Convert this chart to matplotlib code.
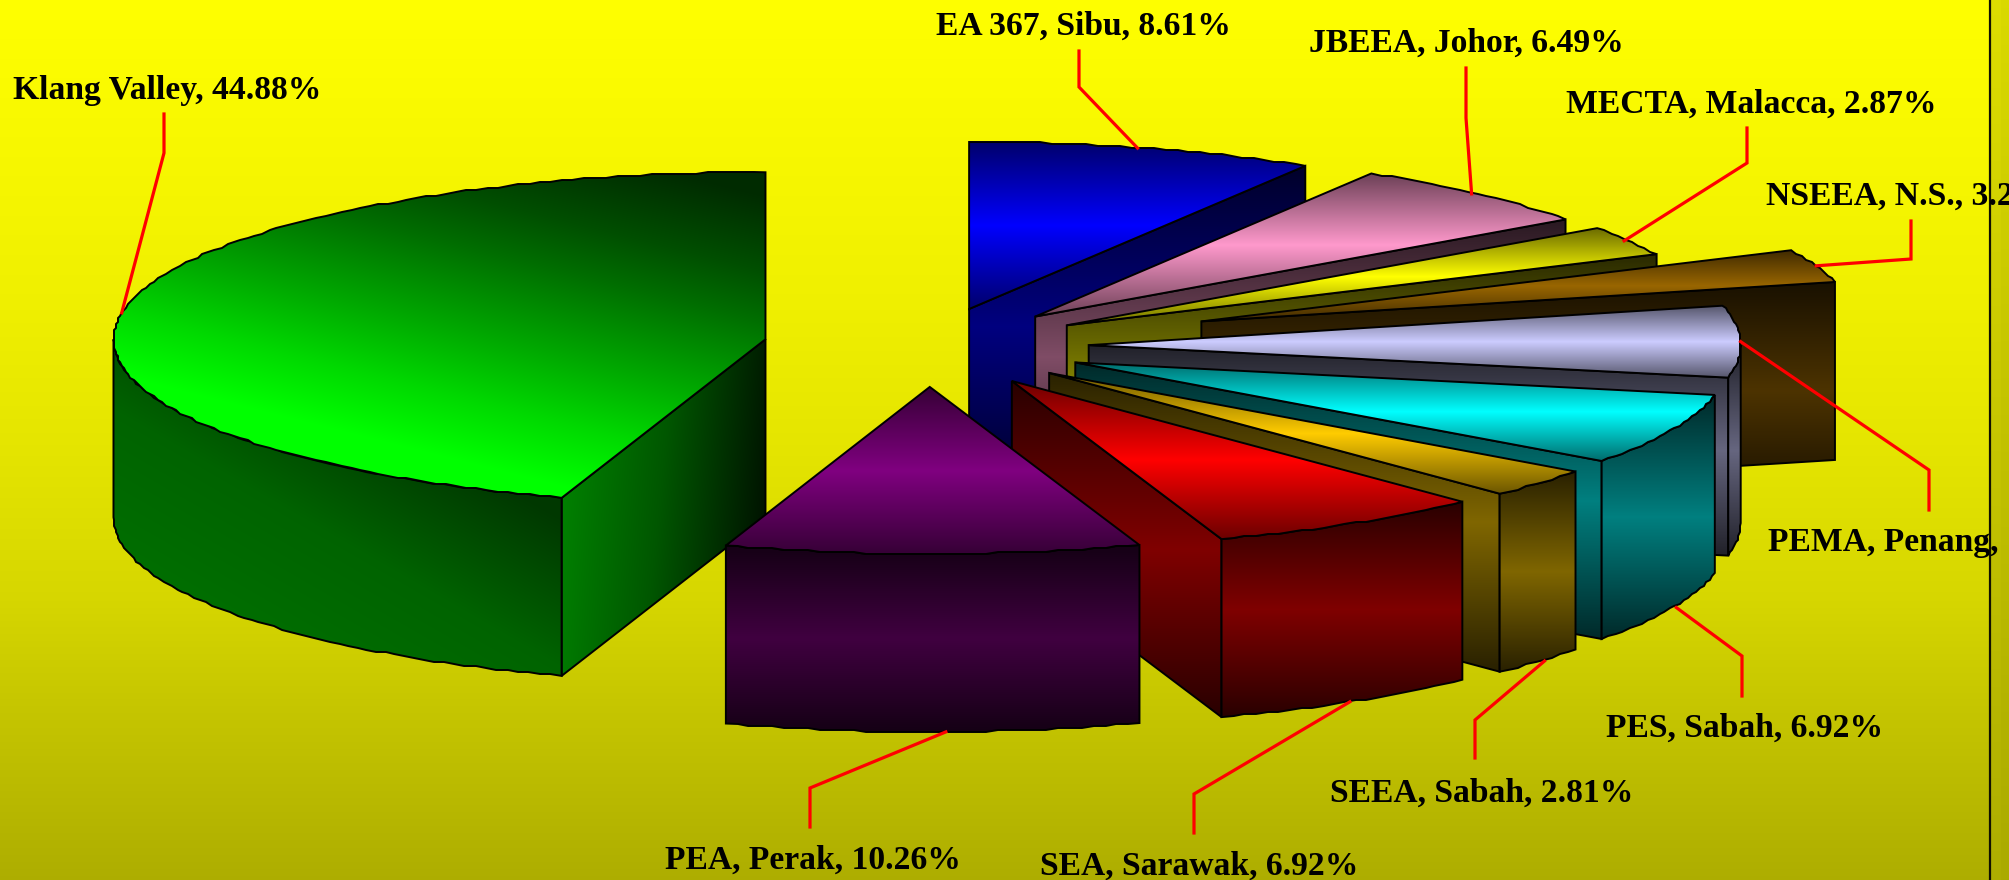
import numpy as np
import matplotlib
matplotlib.use("Agg")
import matplotlib.pyplot as plt
from matplotlib.patches import Polygon, Rectangle
from matplotlib.colors import to_rgb

# clockwise from 12 o'clock
labels = ["EA 367, Sibu, 8.61%", "JBEEA, Johor, 6.49%", "MECTA, Malacca, 2.87%", "NSEEA, N.S., 3.2",
          "PEMA, Penang,", "PES, Sabah, 6.92%", "SEEA, Sabah, 2.81%", "SEA, Sarawak, 6.92%",
          "PEA, Perak, 10.26%", "Klang Valley, 44.88%"]
values = [8.61, 6.49, 2.87, 3.21, 6.90, 6.92, 2.81, 6.92, 10.26, 44.88]
explode = [0.23, 0.24, 0.245, 0.443, 0.245, 0.245, 0.245, 0.245, 0.245, 0.254]
colors = ["#0000FF", "#FF99CC", "#FFFF00", "#996600", "#CCCCFF", "#00FFFF", "#FFCC00", "#FF0000", "#800080", "#00FF00"]

# label anchor, the leader's bend + end and a nudge of its start, in figure pixels
label_pos = [(936, 26), (1309, 43), (1566, 104), (1766, 196), (1768, 543),
             (1606, 728), (1330, 793), (1040, 866), (665, 860), (13, 91)]
leader_bend = [(1079, 87), (1466, 118), (1747, 163), (1911, 259), (1929, 470),
               (1742, 656), (1475, 720), (1194, 794), (810, 788), (164, 153)]
leader_end = [(1079, 51), (1466, 68), (1747, 128), (1911, 221), (1929, 510),
              (1742, 696), (1475, 758), (1194, 833), (810, 827), (164, 114)]
leader_nudge = [-6, -6, -5, 0, 0, 4, 5, 0, 13, 0]

bg_y = [0, 300, 440, 600, 700, 880]
bg_level = [1.0, 0.94, 0.90, 0.84, 0.78, 0.68]

CX, CY = 929, 346
RX, RY = 652, 167
DEPTH = 178

fig = plt.figure(figsize=(20.09, 8.80), dpi=100)
ax = fig.add_axes([0, 0, 1, 1])


def paint(poly, color, level):
    # fill poly with color scaled by level(x, y), then outline it
    poly = np.asarray(poly)
    x0, y0 = np.floor(poly.min(axis=0)).astype(int)
    x1, y1 = np.ceil(poly.max(axis=0)).astype(int) + 1
    xx, yy = np.meshgrid(np.arange(x0, x1) + 0.5, np.arange(y0, y1) + 0.5)
    img = np.clip(level(xx, yy), 0, 1)[..., None] * np.array(to_rgb(color))
    im = ax.imshow(img, extent=(x0, x1, y1, y0), interpolation="nearest", aspect="auto", zorder=2)
    im.set_clip_path(Polygon(poly, transform=ax.transData))
    ax.add_patch(Polygon(poly, closed=True, fill=False, edgecolor="black", lw=1.4, joinstyle="miter", zorder=2))


def vertical(poly, low, high):
    ys = np.asarray(poly)[:, 1]
    y0, y1 = ys.min(), ys.max()
    return lambda xx, yy: np.interp((yy - y0) / (y1 - y0), [0, 0.5, 1], [low, high, low])


def green_top(xx, yy):
    return np.interp(0.25 * xx - yy, [-345, -282, -215, -130, -80, -5], [1.0, 0.85, 0.66, 0.43, 0.31, 0.17])


def green_wall(xx, yy):
    return np.interp(0.5 * xx - 0.87 * yy, [-420, -300, -170], [0.43, 0.39, 0.22])


def green_cut(xx, yy):
    return np.interp(xx + 0.1 * (yy - 500), [564, 660, 765], [0.5, 0.34, 0.08])


angles = np.concatenate([[0], np.cumsum(values)]) * 360 / sum(values)


def slice_geom(i):
    s, e = angles[i], angles[i + 1]
    mid = np.radians((s + e) / 2)
    apex = np.array([CX + explode[i] * RX * np.sin(mid), CY - explode[i] * RY * np.cos(mid)])
    return apex, s, e


def rim(apex, deg):
    t = np.radians(deg)
    return apex + np.column_stack([RX * np.sin(t), -RY * np.cos(t)])


def arc(apex, s, e):
    # stepped a little, the source chart's curves are not smooth
    n = max(int(e - s), 2)
    pts = rim(apex, np.linspace(s, e, n))
    pts[1:-1] = np.round(pts[1:-1] / 2) * 2
    return pts


# background
ax.imshow(np.interp(np.arange(880) + 0.5, bg_y, bg_level)[:, None, None] * np.array([1, 1, 0]) + 0,
          extent=(0, 1990, 880, 0), aspect="auto", interpolation="bilinear", zorder=0)
strip = np.interp(np.arange(880) + 0.5, [0, 880], [0.87, 0.68])[:, None, None] * np.array([1, 1, 0])
ax.imshow(strip, extent=(1990, 2001, 880, 0), aspect="auto", zorder=0)
ax.imshow(strip * 0.98, extent=(2001, 2009, 880, 0), aspect="auto", zorder=0)
ax.axvline(1990, color="#111100", lw=1.6, zorder=1)

down = np.array([0, DEPTH])
green = len(values) - 1
for i in [green] + list(range(green)):
    apex, s, e = slice_geom(i)
    c = colors[i]
    for deg, shows in ((s, np.sin(np.radians(s)) < -1e-6), (e, np.sin(np.radians(e)) > 1e-6)):
        if shows:
            edge = rim(apex, np.array([deg]))[0]
            face = [apex, edge, edge + down, apex + down]
            paint(face, c, green_cut if i == green else vertical(face, 0.16, 0.5))
    if max(s, 90) < min(e, 270):
        top_arc = arc(apex, max(s, 90), min(e, 270))
        wall = np.vstack([top_arc, (top_arc + down)[::-1]])
        paint(wall, c, green_wall if i == green else vertical(wall, 0.16, 0.5))
    top = np.vstack([apex, arc(apex, s, e)])
    paint(top, c, green_top if i == green else vertical(top, 0.42, 1.0))

# leaders and labels
for i in range(len(values)):
    apex, s, e = slice_geom(i)
    mid = (s + e) / 2
    start = rim(apex, np.array([mid]))[0]
    if 90 < mid < 270:
        start = start + down
    ax.plot([start[0] + leader_nudge[i], leader_bend[i][0], leader_end[i][0]],
            [start[1], leader_bend[i][1], leader_end[i][1]],
            color="#FF0000", lw=2.3, solid_joinstyle="miter", zorder=3)
    t = ax.text(label_pos[i][0], label_pos[i][1], labels[i], family="Liberation Serif", weight="bold",
                fontsize=24.2, ha="left", va="center", color="black", zorder=4)
    t.set_clip_path(Rectangle((0, 0), 2001, 880, transform=ax.transData))

ax.set_xlim(0, 2009)
ax.set_ylim(880, 0)
ax.axis("off")
fig.savefig("out.png", dpi=100)
